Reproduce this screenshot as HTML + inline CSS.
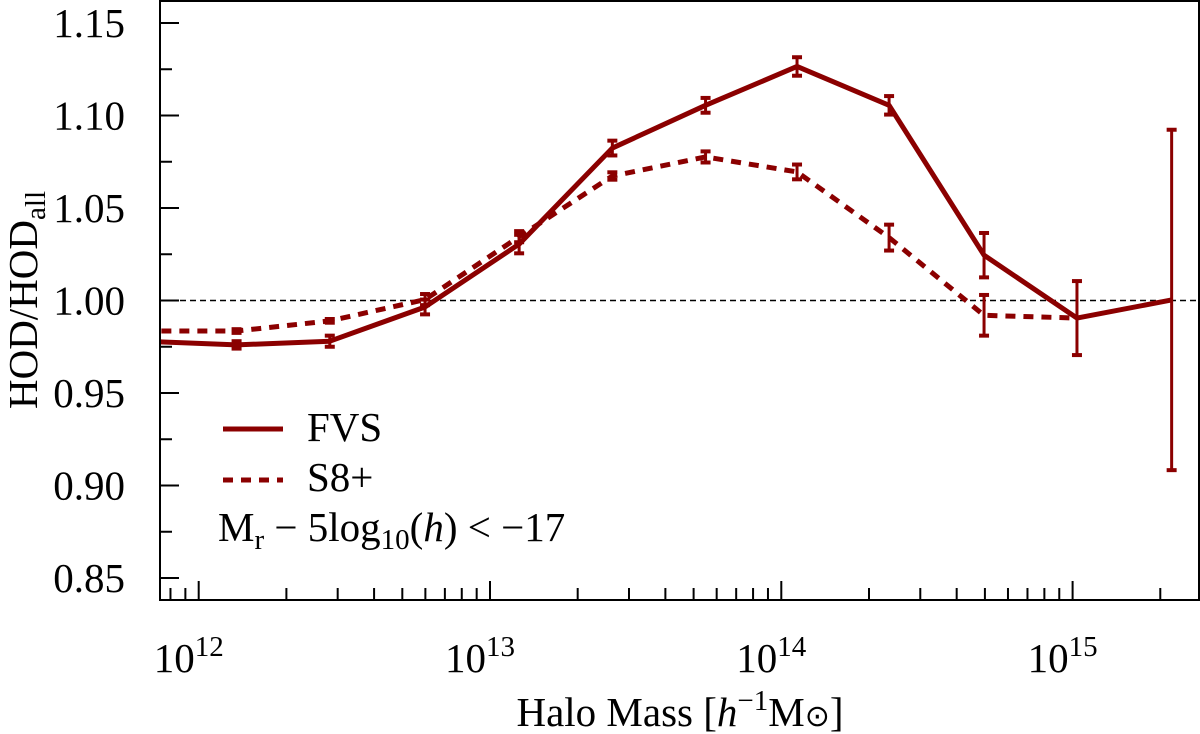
<!DOCTYPE html>
<html><head><meta charset="utf-8"><style>
html,body{margin:0;padding:0;background:#fff;}
body{position:relative;}
svg{display:block;font-family:"Liberation Serif",serif;}
</style></head><body>
<svg id="chart" width="1200" height="734">
<g id="plot"></g>
</svg>
<script>
const xLog = [11.81, 12.13, 12.45, 12.777, 13.10, 13.42, 13.74, 14.054, 14.37, 14.696, 15.015, 15.34];
const fvsVals = [0.978, 0.976, 0.978, 0.9965, 1.0305, 1.0824, 1.1055, 1.1265, 1.1055, 1.0245, 0.9905, 1.0003];
const fvsErr = [0.002, 0.002, 0.003, 0.004, 0.005, 0.004, 0.004, 0.005, 0.005, 0.012, 0.02, 0.092];
const s8Vals = [0.9835, 0.9835, 0.989, 1.0005, 1.0345, 1.0673, 1.0776, 1.0695, 1.034, 0.992, 0.9905];
const s8Err = [0.001, 0.001, 0.001, 0.003, 0.003, 0.002, 0.003, 0.004, 0.007, 0.011, 0.0];
const yTicks = [0.85, 0.90, 0.95, 1.00, 1.05, 1.10, 1.15];
const yTickLabels = ["0.85","0.90","0.95","1.00","1.05","1.10","1.15"];
const xDecades = [12, 13, 14, 15];

const L=160,R=1200,T=1,B=600;
const xs = v => 198.7 + (v-12)*291.3;
const ys = v => 23 + (1.15-v)/0.05*92.5;
const NS="http://www.w3.org/2000/svg";
const g=document.getElementById('plot');
function mk(tag,attrs,parent){const e=document.createElementNS(NS,tag);for(const k in attrs)e.setAttribute(k,attrs[k]);(parent||g).appendChild(e);return e;}
const col="#8b0000";

const defs=mk('defs',{});
const cp=mk('clipPath',{id:'clip'},defs);
mk('rect',{x:L,y:T,width:R-L,height:B-T},cp);
const data=mk('g',{'clip-path':'url(#clip)'});



const ref=mk('line',{x1:L,x2:R,y1:ys(1),y2:ys(1),stroke:'#000','stroke-width':1.5,'stroke-dasharray':'6,4'},data);



function series(vals,errs,dash,name){
  const pts=vals.map((v,i)=>xs(xLog[i])+','+ys(v)).join(' ');
  const pl=mk('polyline',{points:pts,fill:'none',stroke:col,'stroke-width':5,'stroke-dasharray':dash,'stroke-linejoin':'round'},data);
  
  
  vals.forEach((v,i)=>{
    if(!errs[i]) return;
    const x=xs(xLog[i]),y1=ys(v+errs[i]),y2=ys(v-errs[i]);
    const eg=mk('g',{stroke:col,'stroke-width':3},data);
    
    
    mk('line',{x1:x,x2:x,y1:y1,y2:y2},eg);
    mk('line',{x1:x-5,x2:x+5,y1:y1,y2:y1,'stroke-width':4},eg);
    mk('line',{x1:x-5,x2:x+5,y1:y2,y2:y2,'stroke-width':4},eg);
  });
}
series(fvsVals,fvsErr,'none','fvs');
series(s8Vals,s8Err,'10,8','s8plus');

const fr=mk('rect',{x:L,y:T,width:R-L-1,height:B-T,fill:'none',stroke:'#000','stroke-width':2});



yTicks.forEach((v,i)=>{
  const y=ys(v);
  mk('line',{x1:L,x2:L+19,y1:y,y2:y,stroke:'#000','stroke-width':2});
  const t=mk('text',{x:125,y:y+14,'text-anchor':'end','font-size':41});
  t.textContent=yTickLabels[i];
  
  
  const m=ys(v+0.025);
  if(m>T+2) mk('line',{x1:L,x2:L+12,y1:m,y2:m,stroke:'#000','stroke-width':2});
});
for(let d=11;d<=15;d++){
  for(let k=1;k<10;k++){
    const lv=d+Math.log10(k);const x=xs(lv);
    if(x<L+2||x>R-2) continue;
    const len=k===1?19:12;
    mk('line',{x1:x,x2:x,y1:B,y2:B-len,stroke:'#000','stroke-width':2});
  }
}
xDecades.forEach(d=>{
  const x=xs(d);
  const t=mk('text',{x:x-10,y:672,'text-anchor':'middle','font-size':41});
  t.textContent='10';
  const s=mk('tspan',{dy:-16,'font-size':29});
  s.textContent=String(d);
  t.appendChild(s);
  
  
});
</script>
<svg style="position:absolute;left:0;top:0" width="1200" height="734">
<text x="680" y="726" text-anchor="middle" font-size="41">Halo Mass [<tspan font-style="italic">h</tspan><tspan dy="-16" font-size="29">−1</tspan><tspan dy="16">M</tspan><tspan font-size="30">⊙</tspan>]</text>
<text transform="translate(37,300) rotate(-90)" text-anchor="middle" font-size="41">HOD/HOD<tspan dy="8" font-size="29">all</tspan></text>
<g font-size="41">
<line x1="223" x2="283" y1="429" y2="429" stroke="#8b0000" stroke-width="5"/>
<text x="307" y="441">FVS</text>
<line x1="223" x2="283" y1="480" y2="480" stroke="#8b0000" stroke-width="5" stroke-dasharray="10,8"/>
<text x="307" y="491">S8+</text>
<text x="218" y="541">M<tspan dy="8" font-size="29">r</tspan><tspan dy="-8"> − 5log</tspan><tspan dy="8" font-size="29">10</tspan><tspan dy="-8">(</tspan><tspan font-style="italic">h</tspan>) &lt; −17</text>
</g>
</svg>
</body></html>
